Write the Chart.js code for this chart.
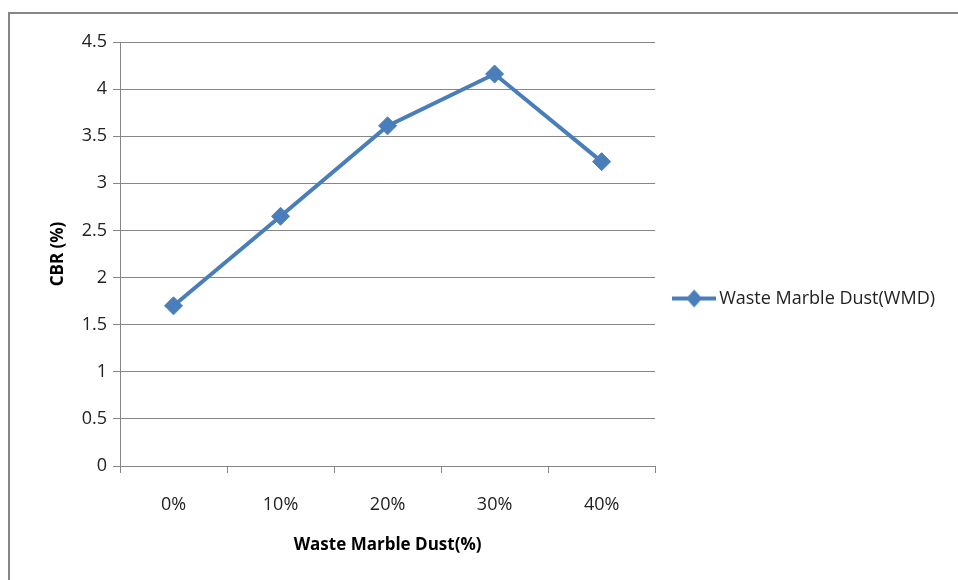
<!DOCTYPE html>
<html>
<head>
<meta charset="utf-8">
<script src="https://cdn.jsdelivr.net/npm/chart.js@4.4.0/dist/chart.umd.min.js"></script>
<style>
    html, body { margin: 0; padding: 0; background: #fff; }
    #marco {
        position: absolute; left: 8px; top: 12px; right: 0; bottom: 0;
        border-top: 2px solid #878787; border-left: 2px solid #878787;
    }
    #contenedor { position: absolute; left: 0; top: 0; width: 958px; height: 580px; }
</style>
</head>
<body>
<div id="marco"></div>
<div id="contenedor"><canvas id="graficoCBR"></canvas></div>
<script>
const categorias = ['0%', '10%', '20%', '30%', '40%'];
const valoresCBR = [1.70, 2.65, 3.61, 4.16, 3.23];
const nombreSerie = 'Waste Marble Dust(WMD)';
const tituloX = 'Waste Marble Dust(%)';
const tituloY = 'CBR (%)';

const azul = '#4a7ebb';
const gris = '#868686';

Chart.defaults.font.family = "'Open Sans', sans-serif";
Chart.defaults.color = '#222';

// Marcador de la leyenda: linea con rombo
function crearMarcador() {
    const c = document.createElement('canvas');
    c.width = 44;
    c.height = 20;
    const g = c.getContext('2d');
    g.strokeStyle = azul;
    g.lineWidth = 4;
    g.beginPath();
    g.moveTo(0, 10);
    g.lineTo(44, 10);
    g.stroke();
    g.fillStyle = azul;
    g.beginPath();
    g.moveTo(22, 1);
    g.lineTo(30, 10);
    g.lineTo(22, 19);
    g.lineTo(14, 10);
    g.closePath();
    g.fill();
    return c;
}
const marcador = crearMarcador();

const ctx = document.getElementById('graficoCBR').getContext('2d');

new Chart(ctx, {
    type: 'line',
    data: {
        labels: categorias,
        datasets: [{
            label: nombreSerie,
            data: valoresCBR,
            borderColor: azul,
            backgroundColor: azul,
            borderWidth: 4,
            pointStyle: 'rectRot',
            pointRadius: 9,
            pointHoverRadius: 9,
            pointBackgroundColor: azul,
            pointBorderColor: azul,
            pointBorderWidth: 1,
            tension: 0
        }]
    },
    options: {
        responsive: true,
        maintainAspectRatio: false,
        animation: false,
        layout: {
            padding: { left: 48, top: 42, right: 13, bottom: 25 }
        },
        plugins: {
            legend: {
                position: 'right',
                maxWidth: 400,
                labels: {
                    usePointStyle: true,
                    pointStyleWidth: 32,
                    padding: 23,
                    font: { size: 18 },
                    color: '#222',
                    generateLabels: chart => chart.data.datasets.map((d, i) => ({
                        text: d.label,
                        pointStyle: marcador,
                        fillStyle: azul,
                        strokeStyle: azul,
                        lineWidth: 0,
                        datasetIndex: i,
                        fontColor: '#222'
                    }))
                },
                onClick: () => {}
            },
            tooltip: { enabled: false }
        },
        scales: {
            x: {
                offset: true,
                grid: {
                    offset: true,
                    drawOnChartArea: false,
                    drawTicks: true,
                    tickLength: 7,
                    color: gris
                },
                border: { color: gris, width: 1 },
                ticks: { padding: 21, font: { size: 18 }, color: '#222', maxRotation: 0 },
                title: {
                    display: true,
                    text: tituloX,
                    font: { size: 17, weight: 'bold' },
                    color: '#000',
                    padding: 0
                },
                afterFit: scale => { scale.height = 89; }
            },
            y: {
                min: 0,
                max: 4.5,
                ticks: {
                    stepSize: 0.5,
                    padding: 6,
                    font: { size: 18 },
                    color: '#222',
                    callback: v => String(v)
                },
                grid: { color: gris, tickLength: 7 },
                border: { color: gris, width: 1 },
                title: {
                    display: true,
                    text: tituloY,
                    font: { size: 17, weight: 'bold' },
                    color: '#000',
                    padding: 0
                },
                afterFit: scale => { scale.width = 72; }
            }
        }
    }
});
</script>
</body>
</html>
